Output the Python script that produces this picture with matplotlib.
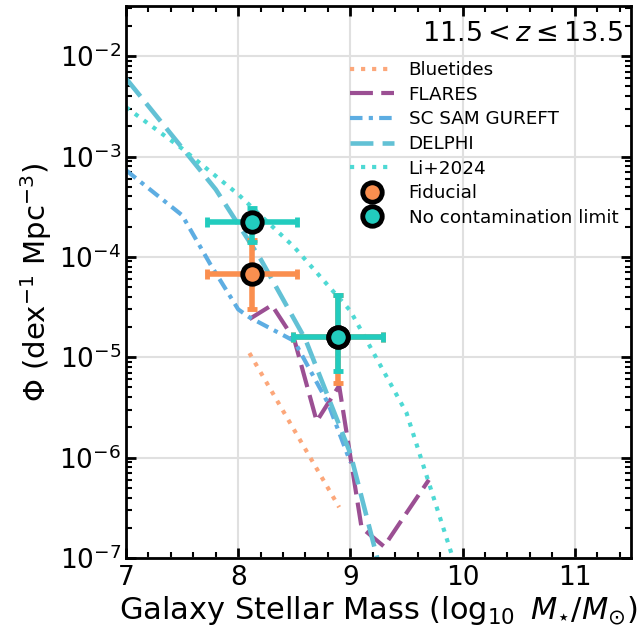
import matplotlib
matplotlib.use("Agg")
import matplotlib.pyplot as plt
from matplotlib.lines import Line2D
import numpy as np

# ── model curves ───────────────────────────────────────────────────────────
bluetides_m = [8.1, 8.9]
bluetides_phi = [1.1e-5, 3.2e-7]

flares_m = [8.1, 8.3, 8.5, 8.7, 8.9, 9.1, 9.3, 9.5, 9.7]
flares_phi = [2.4e-5, 3.3e-5, 1.5e-5, 2.3e-6, 5.2e-6, 2.0e-7, 1.3e-7, 2.8e-7, 6.0e-7]

gureft_m = [7.0, 7.5, 7.75, 8.0, 8.1, 8.5, 8.8, 9.0]
gureft_phi = [7.3e-4, 2.6e-4, 8.5e-5, 3.0e-5, 2.5e-5, 1.45e-5, 3.5e-6, 9.0e-7]

delphi_m = [7.0, 7.8, 8.2, 8.6, 9.0, 9.4]
delphi_phi = [6.0e-3, 4.7e-4, 9.5e-5, 1.5e-5, 1.1e-6, 2.0e-8]

li_m = [7.0, 7.5, 8.0, 8.5, 9.0, 9.5, 10.0]
li_phi = [3.1e-3, 1.2e-3, 4.2e-4, 1.25e-4, 2.9e-5, 2.8e-6, 5.0e-8]

# ── observed points ────────────────────────────────────────────────────────
obs_m = [8.12, 8.89]
obs_mlo = [0.40, 0.40]
obs_mhi = [0.40, 0.40]

fid_phi = [6.7e-5, 1.58e-5]
fid_lo = [3.0e-5, 5.5e-6]
fid_hi = [1.47e-4, 4.2e-5]

noc_phi = [2.22e-4, 1.58e-5]
noc_lo = [1.40e-4, 7.3e-6]
noc_hi = [3.06e-4, 4.2e-5]

C_BT = "#FCA77A"
C_FL = "#9B4F93"
C_SC = "#5DADE2"
C_DE = "#62C1D5"
C_LI = "#4ED9D4"
C_FID = "#FA8F4F"
C_NOC = "#22CCBE"

fig = plt.figure(figsize=(6.43, 6.34), dpi=100)
ax = fig.add_axes([0.196, 0.12, 0.785, 0.8705])

ax.plot(bluetides_m, bluetides_phi, ls=":", lw=3, color=C_BT, label="Bluetides")
ax.plot(flares_m, flares_phi, ls=(0, (5.5, 2)), lw=3, color=C_FL, label="FLARES")
ax.plot(gureft_m, gureft_phi, ls=(0, (3, 1.5, 1, 1.5)), lw=3, color=C_SC, label="SC SAM GUREFT")
ax.plot(delphi_m, delphi_phi, ls=(0, (5, 2)), lw=3.3, color=C_DE, label="DELPHI")
ax.plot(li_m, li_phi, ls=":", lw=3, color=C_LI, label="Li+2024")

for phi, lo, hi, col in [(fid_phi, fid_lo, fid_hi, C_FID), (noc_phi, noc_lo, noc_hi, C_NOC)]:
    phi = np.array(phi)
    yerr = [phi - np.array(lo), np.array(hi) - phi]
    ax.errorbar(obs_m, phi, xerr=[obs_mlo, obs_mhi], yerr=yerr, fmt="o", color=col,
                ecolor=col, elinewidth=4, capsize=3.3, capthick=4, ms=14,
                mfc=col, mec="black", mew=3.5, zorder=5)

handles, labels = ax.get_legend_handles_labels()
handles = handles[:5] + [
    Line2D([], [], ls="none", marker="o", ms=14, mfc=C_FID, mec="black", mew=3.5),
    Line2D([], [], ls="none", marker="o", ms=14, mfc=C_NOC, mec="black", mew=3.5),
]
labels = labels[:5] + ["Fiducial", "No contamination limit"]
ax.legend(handles, labels, loc="upper right", bbox_to_anchor=(1.008, 0.93),
          frameon=False, fontsize=13.2, handlelength=2.4, labelspacing=0.36)

ax.text(0.985, 0.972, r"$11.5 < z \leq 13.5$", transform=ax.transAxes,
        ha="right", va="top", fontsize=19.5)

ax.set_yscale("log")
ax.set_xlim(7, 11.5)
ax.set_ylim(1e-7, 10 ** -1.5)
ax.set_xticks([7, 8, 9, 10, 11])
ax.set_xticks(np.arange(7, 11.5, 0.2), minor=True)
ax.set_yticks([1e-7, 1e-6, 1e-5, 1e-4, 1e-3, 1e-2])

ax.tick_params(which="both", direction="in", top=True, right=True, labelsize=19)
ax.tick_params(axis="x", which="major", pad=5)
ax.tick_params(which="major", length=7, width=2)
ax.tick_params(which="minor", length=4, width=1.5)
for s in ax.spines.values():
    s.set_linewidth(2)
ax.grid(True, which="major", color="#e0e0e0", lw=1.5)
ax.set_axisbelow(True)

ax.set_xlabel(r"Galaxy Stellar Mass ($\log_{10}\ M_{\star}/M_{\odot}$)", fontsize=22,
              labelpad=2)
ax.set_ylabel(r"$\Phi$ (dex$^{-1}$ Mpc$^{-3}$)", fontsize=21)

fig.savefig("out.png", dpi=100)
